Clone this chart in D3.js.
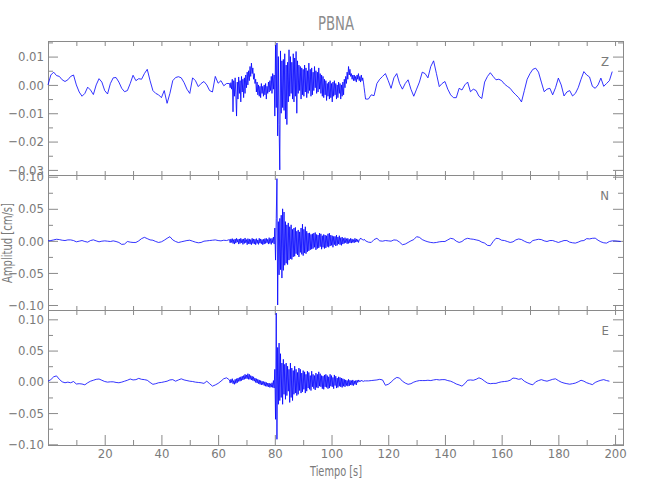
<!DOCTYPE html>
<html>
<head>
<meta charset="utf-8">
<script src="https://cdn.jsdelivr.net/npm/d3@7"></script>
<style>
html,body{margin:0;padding:0;background:#fff;}
svg{display:block;}
</style>
</head>
<body>
<div id="chart"></div>
<script>
// ---------------- DATA ----------------
const title = "PBNA";
const xLabel = "Tiempo [s]";
const yLabel = "Amplitud [cm/s]";
const channelNames = ["Z", "N", "E"];

// segment starts (s) and sample steps (s): quiet A, burst, quiet B
const segStart = [0, 64, 113];
const segStep = [1, 0.25, 1];

const xTickLabels = [20, 40, 60, 80, 100, 120, 140, 160, 180, 200];
const xMinorTicks = [10, 30, 50, 70, 90, 110, 130, 150, 170, 190];
const zTicks = [0.01, 0.00, -0.01, -0.02, -0.03];
const zMinor = [0.015, 0.005, -0.005, -0.015, -0.025];
const nTicks = [0.10, 0.05, 0.00, -0.05, -0.10];
const nMinor = [0.075, 0.025, -0.025, -0.075];
const eTicks = [0.10, 0.05, 0.00, -0.05, -0.10];
const eMinor = [0.075, 0.025, -0.025, -0.075];

// Z component
const zQuietA = [
 0.0000,0.0035,0.0045,0.0033,0.0030,0.0018,0.0012,0.0018,0.0030,0.0035,
 0.0000,-0.0025,-0.0040,-0.0030,-0.0008,-0.0018,-0.0034,0.0000,0.0022,0.0010,
 -0.0020,-0.0032,0.0005,0.0025,0.0026,0.0010,-0.0012,-0.0024,-0.0020,0.0005,
 0.0034,0.0015,0.0022,0.0020,0.0040,0.0055,0.0015,-0.0020,-0.0030,-0.0035,
 -0.0045,-0.0020,-0.0065,-0.0030,0.0015,0.0026,0.0029,0.0025,0.0008,-0.0015,
 -0.0030,0.0025,0.0015,-0.0006,0.0005,0.0012,0.0000,-0.0020,-0.0025,0.0030,
 0.0006,0.0015,-0.0003,0.0005];
const zBurst = [
 0.0005,-0.0010,0.0008,-0.0015, 0.0020,-0.0095,0.0015,-0.0040,
 0.0025,-0.0035,-0.0110,0.0010, -0.0050,0.0028,-0.0030,0.0015,
 -0.0060,0.0030,-0.0025,0.0020, -0.0045,0.0025,-0.0030,0.0035,
 -0.0010,0.0045,0.0000,0.0050, 0.0015,0.0065,0.0030,0.0077,
 0.0040,0.0060,0.0020,0.0040, 0.0005,0.0020,-0.0025,0.0010,
 -0.0035,0.0000,-0.0040,-0.0005, -0.0045,0.0005,-0.0030,-0.0005,
 -0.0040,0.0000,-0.0035,0.0005, -0.0050,-0.0005,-0.0030,0.0010,
 -0.0025,0.0015,-0.0020,0.0030, -0.0030,0.0040,-0.0015,0.0035,
 -0.0110,0.0140,-0.0080,0.0148, -0.0180,0.0100,-0.0140,-0.0300,
 0.0120,-0.0100,0.0085,-0.0080, 0.0090,-0.0090,0.0110,-0.0120,
 0.0070,-0.0140,0.0080,-0.0060, 0.0124,-0.0040,0.0100,-0.0030,
 0.0080,-0.0050,0.0110,-0.0060, 0.0095,-0.0040,0.0118,-0.0100,
 0.0085,-0.0030,0.0070,-0.0020, 0.0065,-0.0050,0.0060,-0.0035,
 0.0055,-0.0040,0.0070,-0.0025, 0.0060,-0.0045,0.0050,-0.0030,
 0.0077,-0.0020,0.0055,-0.0040, 0.0060,-0.0035,0.0045,-0.0020,
 0.0065,-0.0010,0.0050,-0.0030, 0.0045,-0.0025,0.0060,-0.0015,
 0.0040,-0.0030,0.0035,-0.0040, 0.0030,-0.0045,0.0020,-0.0035,
 0.0015,-0.0055,0.0005,-0.0040, 0.0010,-0.0050,0.0015,-0.0045,
 0.0005,-0.0060,0.0010,-0.0040, 0.0015,-0.0035,0.0005,-0.0050,
 0.0000,-0.0045,0.0010,-0.0030, 0.0005,-0.0050,0.0000,-0.0040,
 0.0010,-0.0035,0.0020,-0.0010, 0.0030,0.0005,0.0045,0.0020,
 0.0065,0.0035,0.0055,0.0030, 0.0040,0.0020,0.0035,0.0015,
 0.0035,0.0015,0.0030,0.0010, 0.0035,0.0020,0.0040,0.0015,
 0.0030,0.0010,0.0035,0.0015, 0.0025,0.0010,-0.0010,-0.0030,
 -0.0050];
const zQuietB = [
 -0.0050,-0.0035,-0.0038,0.0005,0.0020,0.0030,0.0040,0.0015,-0.0012,0.0025,
 0.0040,0.0005,-0.0015,0.0005,0.0018,-0.0015,-0.0040,-0.0015,0.0010,0.0045,
 0.0040,0.0025,0.0065,0.0085,0.0040,-0.0006,0.0005,0.0012,-0.0015,-0.0035,
 -0.0045,-0.0045,-0.0012,-0.0018,0.0000,0.0010,-0.0024,-0.0015,-0.0020,-0.0040,
 -0.0048,0.0010,0.0030,0.0043,0.0030,0.0018,0.0020,0.0015,0.0003,-0.0005,
 -0.0012,-0.0025,-0.0035,-0.0045,-0.0060,-0.0020,0.0020,0.0040,0.0055,0.0059,
 0.0045,0.0010,-0.0024,-0.0015,-0.0012,-0.0035,-0.0010,0.0024,0.0000,-0.0039,
 -0.0025,-0.0020,-0.0039,-0.0030,-0.0010,0.0020,0.0047,0.0035,0.0028,-0.0005,
 -0.0012,0.0000,0.0024,-0.0005,0.0005,0.0015,0.0047];

// N component
const nQuietA = [
 0.0000,0.0005,0.0015,0.0025,0.0020,0.0010,0.0005,0.0015,0.0015,0.0005,
 -0.0015,-0.0005,0.0005,-0.0010,-0.0020,0.0005,0.0016,0.0000,-0.0015,-0.0005,
 0.0000,-0.0005,-0.0010,0.0000,-0.0010,-0.0025,-0.0055,-0.0050,-0.0010,-0.0020,
 -0.0025,-0.0025,0.0000,0.0035,0.0055,0.0035,0.0015,0.0010,-0.0010,-0.0025,
 -0.0015,0.0010,0.0040,0.0065,0.0015,-0.0010,-0.0026,-0.0015,-0.0005,0.0005,
 0.0010,-0.0005,-0.0020,-0.0030,-0.0025,-0.0005,0.0000,0.0005,0.0010,0.0015,
 0.0005,0.0000,0.0010,0.0005];
const nBurst = [
 0.0020,-0.0030,0.0030,-0.0025, 0.0035,-0.0040,0.0020,-0.0050,
 0.0030,-0.0035,0.0040,-0.0020, 0.0025,-0.0050,0.0030,-0.0040,
 0.0040,-0.0030,0.0025,-0.0055, 0.0030,-0.0040,0.0045,-0.0030,
 0.0020,-0.0060,0.0035,-0.0045, 0.0030,-0.0050,0.0020,-0.0060,
 0.0040,-0.0040,0.0030,-0.0050, 0.0025,-0.0060,0.0035,-0.0040,
 0.0015,-0.0055,0.0040,-0.0035, 0.0030,-0.0045,0.0020,-0.0060,
 0.0025,-0.0050,0.0035,-0.0040, 0.0040,-0.0030,0.0025,-0.0050,
 0.0050,-0.0040,0.0035,-0.0055, 0.0040,-0.0030,0.0060,-0.0050,
 0.0200,-0.0300,0.0350,0.0970, -0.1000,0.0300,-0.0530,0.0350,
 -0.0450,0.0400,-0.0580,0.0500, -0.0460,0.0450,-0.0380,0.0300,
 -0.0350,0.0250,-0.0370,0.0280, -0.0300,0.0220,-0.0280,0.0250,
 -0.0290,0.0180,-0.0250,0.0200, -0.0240,0.0210,-0.0200,0.0150,
 -0.0220,0.0170,-0.0250,0.0140, -0.0180,0.0200,-0.0210,0.0260,
 -0.0230,0.0180,-0.0190,0.0220, -0.0200,0.0150,-0.0170,0.0120,
 -0.0156,0.0125,-0.0140,0.0100, -0.0130,0.0110,-0.0120,0.0120,
 -0.0100,0.0130,-0.0140,0.0100, -0.0120,0.0090,-0.0110,0.0120,
 -0.0090,0.0110,-0.0130,0.0080, -0.0100,0.0100,-0.0120,0.0090,
 -0.0110,0.0080,-0.0090,0.0110, -0.0100,0.0120,-0.0080,0.0090,
 -0.0070,0.0080,-0.0100,0.0070, -0.0060,0.0070,-0.0080,0.0090,
 -0.0070,0.0060,-0.0050,0.0080, -0.0060,0.0050,-0.0070,0.0060,
 -0.0050,0.0040,-0.0040,0.0050, -0.0030,0.0035,-0.0045,0.0040,
 -0.0040,0.0025,-0.0030,0.0040, -0.0035,0.0030,-0.0025,0.0020,
 -0.0030,0.0040,-0.0020,0.0030, -0.0015,0.0020,-0.0025,0.0015,
 0.0020,0.0045,0.0030,0.0020, 0.0020,0.0010,0.0025,0.0015,
 0.0000];
const nQuietB = [
 -0.0020,-0.0025,0.0020,0.0040,0.0000,-0.0005,0.0005,0.0000,-0.0005,0.0015,
 0.0010,-0.0020,-0.0060,-0.0050,-0.0025,0.0000,0.0020,0.0065,0.0055,0.0020,
 0.0000,-0.0015,-0.0025,-0.0030,-0.0025,-0.0015,-0.0010,-0.0010,0.0015,0.0040,
 0.0030,-0.0005,-0.0025,-0.0010,0.0025,0.0040,0.0030,0.0025,0.0015,0.0005,
 -0.0020,-0.0035,-0.0070,-0.0075,-0.0010,0.0040,0.0035,0.0010,0.0005,-0.0010,
 -0.0025,-0.0015,0.0015,0.0030,0.0020,-0.0005,-0.0025,-0.0035,0.0005,0.0015,
 0.0025,0.0020,0.0000,-0.0010,0.0005,0.0005,-0.0010,-0.0025,-0.0010,0.0005,
 0.0005,-0.0020,-0.0030,-0.0035,-0.0020,0.0000,0.0005,0.0035,0.0030,0.0040,
 0.0042,0.0010,-0.0015,-0.0030,-0.0035,-0.0010,0.0000,0.0000,-0.0005,-0.0010];

// E component
const eQuietA = [
 0.0010,0.0035,0.0080,0.0095,0.0040,0.0000,-0.0015,-0.0005,-0.0015,0.0005,
 -0.0035,-0.0030,-0.0035,-0.0048,-0.0015,0.0010,0.0025,0.0040,0.0045,0.0025,
 0.0005,-0.0005,0.0000,0.0000,-0.0010,-0.0015,-0.0005,0.0010,0.0025,0.0045,
 0.0030,0.0035,0.0055,0.0040,0.0035,0.0025,-0.0010,-0.0040,-0.0030,-0.0015,
 -0.0010,0.0000,0.0010,0.0030,0.0035,0.0010,0.0030,0.0048,0.0030,0.0020,
 0.0010,0.0005,-0.0005,-0.0010,-0.0015,-0.0025,0.0010,-0.0030,-0.0069,-0.0050,
 -0.0025,0.0010,0.0050,0.0064];
const eBurst = [
 0.0030,-0.0020,0.0040,-0.0010, 0.0050,-0.0030,0.0020,-0.0040,
 0.0040,-0.0025,0.0050,-0.0015, 0.0060,0.0005,0.0070,0.0010,
 0.0080,0.0020,0.0090,0.0030, 0.0100,0.0040,0.0120,0.0050,
 0.0110,0.0050,0.0130,0.0040, 0.0120,0.0040,0.0100,0.0030,
 0.0090,0.0020,0.0080,0.0010, 0.0060,-0.0010,0.0050,-0.0020,
 0.0040,-0.0030,0.0030,-0.0040, 0.0020,-0.0050,0.0010,-0.0045,
 0.0005,-0.0060,0.0000,-0.0070, -0.0010,-0.0075,-0.0020,-0.0080,
 -0.0020,-0.0090,-0.0030,-0.0085, -0.0015,-0.0090,0.0020,-0.0100,
 0.0200,-0.0600,0.1100,-0.0920, 0.0550,-0.0360,0.0620,-0.0300,
 0.0450,-0.0250,0.0300,-0.0360, 0.0360,-0.0200,0.0280,-0.0280,
 0.0300,-0.0220,0.0250,-0.0150, 0.0200,-0.0330,0.0300,-0.0250,
 0.0220,-0.0300,0.0180,-0.0200, 0.0250,-0.0180,0.0200,-0.0220,
 0.0150,-0.0200,0.0220,-0.0140, 0.0200,-0.0180,0.0140,-0.0160,
 0.0180,-0.0120,0.0160,-0.0180, 0.0120,-0.0150,0.0170,-0.0100,
 0.0150,-0.0120,0.0100,-0.0140, 0.0170,-0.0080,0.0120,-0.0110,
 0.0100,-0.0130,0.0140,-0.0090, 0.0120,-0.0100,0.0160,-0.0070,
 0.0130,-0.0080,0.0100,-0.0110, 0.0090,-0.0120,0.0110,-0.0080,
 0.0120,-0.0090,0.0100,-0.0110, 0.0080,-0.0100,0.0120,-0.0070,
 0.0100,-0.0080,0.0070,-0.0110, 0.0110,-0.0060,0.0090,-0.0100,
 0.0060,-0.0090,0.0080,-0.0070, 0.0070,-0.0080,0.0060,-0.0090,
 0.0050,-0.0070,0.0040,-0.0080, 0.0030,-0.0060,0.0020,-0.0070,
 0.0040,-0.0065,0.0025,-0.0050, 0.0020,-0.0055,0.0030,-0.0060,
 0.0015,-0.0040,0.0020,-0.0050, 0.0025,-0.0010,0.0030,0.0000,
 0.0020,0.0005,0.0025,0.0010, 0.0015,0.0005,0.0020,0.0010,
 0.0015];
const eQuietB = [
 0.0015,0.0020,0.0025,0.0030,0.0040,0.0030,-0.0055,-0.0040,-0.0005,0.0040,
 0.0070,0.0060,0.0010,-0.0020,-0.0040,-0.0030,-0.0005,0.0010,0.0020,0.0020,
 0.0020,0.0025,0.0020,0.0030,0.0037,0.0030,0.0035,0.0035,0.0020,0.0010,
 -0.0010,-0.0035,-0.0050,-0.0069,-0.0030,0.0025,0.0030,0.0025,0.0040,0.0064,
 0.0045,0.0010,-0.0020,-0.0030,-0.0025,-0.0025,-0.0010,0.0000,0.0005,0.0010,
 0.0025,0.0060,0.0055,0.0040,0.0050,0.0010,-0.0015,-0.0035,-0.0048,0.0000,
 0.0020,0.0035,0.0020,0.0010,0.0025,0.0040,0.0048,0.0020,-0.0005,-0.0020,
 -0.0030,-0.0038,-0.0030,-0.0020,0.0000,0.0025,0.0010,-0.0015,-0.0030,-0.0045,
 -0.0010,0.0010,0.0025,0.0035,0.0020,0.0010];

// ---------------- LAYOUT ----------------
const W = 650, H = 500;
const L = 48, R = 623;
const panelTop = [41, 175, 310];
const panelBottom = [175, 310, 445];
const panelDomain = [[-0.0318, 0.0155], [-0.1078, 0.1027], [-0.1011, 0.1149]];
const panelMajor = [zTicks, nTicks, eTicks];
const panelMinor = [zMinor, nMinor, eMinor];
const panelSegments = [[zQuietA, zBurst, zQuietB], [nQuietA, nBurst, nQuietB], [eQuietA, eBurst, eQuietB]];

const FONT = "'Liberation Sans Narrow','DejaVu Sans Condensed','Liberation Sans',sans-serif";
const GREY = "#7a7a7a";
const AXIS = "#8a8a8a";

const svg = d3.select("#chart").append("svg")
  .attr("width", W).attr("height", H)
  .style("font-family", FONT);
svg.append("rect").attr("width", W).attr("height", H).attr("fill", "#fff");

const x = d3.scaleLinear().domain([0, 202.8]).range([L, R]);
const allXTicks = xMinorTicks.concat(xTickLabels);
const fmt = d3.format(".2f");

function styleAxis(g) {
  g.select(".domain").remove();
  g.attr("color", AXIS).attr("font-family", FONT).attr("font-size", 13);
  g.selectAll("text").attr("fill", GREY);
  g.selectAll("line").attr("stroke-width", 1);
}

channelNames.forEach((name, i) => {
  const top = panelTop[i], bottom = panelBottom[i];
  const y = d3.scaleLinear().domain(panelDomain[i]).range([bottom, top]);
  const g = svg.append("g");

  // left axis (major with labels, minor without)
  g.append("g").attr("transform", `translate(${L},0)`)
    .call(d3.axisLeft(y).tickValues(panelMajor[i]).tickSize(-10).tickPadding(4).tickFormat(fmt))
    .call(styleAxis);
  g.append("g").attr("transform", `translate(${L},0)`)
    .call(d3.axisLeft(y).tickValues(panelMinor[i]).tickSize(-5).tickFormat(""))
    .call(styleAxis);
  // right axis
  g.append("g").attr("transform", `translate(${R},0)`)
    .call(d3.axisRight(y).tickValues(panelMajor[i]).tickSize(-10).tickFormat(""))
    .call(styleAxis);
  g.append("g").attr("transform", `translate(${R},0)`)
    .call(d3.axisRight(y).tickValues(panelMinor[i]).tickSize(-5).tickFormat(""))
    .call(styleAxis);
  // top axis
  g.append("g").attr("transform", `translate(0,${top})`)
    .call(d3.axisTop(x).tickValues(allXTicks).tickSize(-5).tickFormat(""))
    .call(styleAxis);
  // bottom axis
  if (i === channelNames.length - 1) {
    g.append("g").attr("transform", `translate(0,${bottom})`)
      .call(d3.axisBottom(x).tickValues(xTickLabels).tickSize(-10).tickPadding(4).tickFormat(d3.format("d")))
      .call(styleAxis);
    g.append("g").attr("transform", `translate(0,${bottom})`)
      .call(d3.axisBottom(x).tickValues(xMinorTicks).tickSize(-5).tickFormat(""))
      .call(styleAxis);
  } else {
    g.append("g").attr("transform", `translate(0,${bottom})`)
      .call(d3.axisBottom(x).tickValues(allXTicks).tickSize(-4).tickFormat(""))
      .call(styleAxis);
  }

  // frame
  g.append("rect")
    .attr("x", L + 0.5).attr("y", top + 0.5)
    .attr("width", R - L).attr("height", bottom - top)
    .attr("fill", "none").attr("stroke", AXIS).attr("stroke-width", 1);

  // trace
  const pts = [];
  panelSegments[i].forEach((seg, s) => {
    seg.forEach((v, k) => pts.push([segStart[s] + k * segStep[s], v]));
  });
  const line = d3.line().x(d => x(d[0])).y(d => y(d[1]));
  g.append("path").datum(pts)
    .attr("d", line)
    .attr("fill", "none")
    .attr("stroke", "#0000ff")
    .attr("stroke-width", 0.8)
    .attr("stroke-linejoin", "round");

  // channel label
  g.append("text")
    .attr("x", 609).attr("y", top + 25)
    .attr("text-anchor", "end")
    .attr("font-size", 13)
    .attr("fill", GREY)
    .text(name);
});

// title
svg.append("text")
  .attr("x", 336).attr("y", 30)
  .attr("text-anchor", "middle")
  .attr("font-size", 20)
  .attr("fill", "#8c8c8c")
  .attr("textLength", 36).attr("lengthAdjust", "spacingAndGlyphs")
  .text(title);

// x label
svg.append("text")
  .attr("x", 336).attr("y", 476)
  .attr("text-anchor", "middle")
  .attr("font-size", 14)
  .attr("fill", GREY)
  .attr("textLength", 52).attr("lengthAdjust", "spacingAndGlyphs")
  .text(xLabel);

// y label
svg.append("text")
  .attr("transform", "translate(12,243) rotate(-90)")
  .attr("text-anchor", "middle")
  .attr("font-size", 14)
  .attr("fill", GREY)
  .attr("textLength", 80).attr("lengthAdjust", "spacingAndGlyphs")
  .text(yLabel);
</script>
</body>
</html>
